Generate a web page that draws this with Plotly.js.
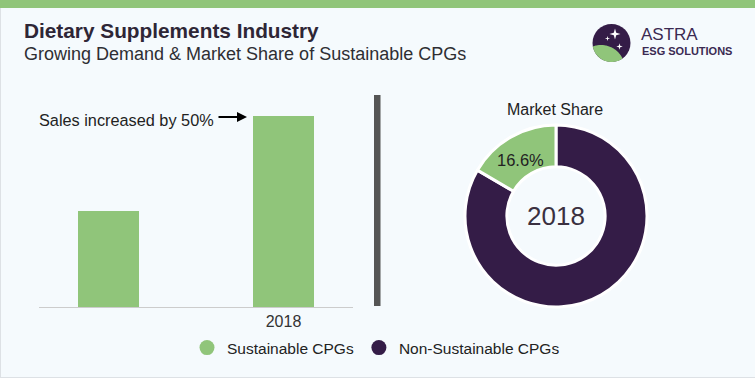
<!DOCTYPE html>
<html>
<head>
<meta charset="utf-8">
<script src="https://cdn.plot.ly/plotly-3.0.1.min.js"></script>
<style>
  html, body { margin: 0; padding: 0; background: #f5fafd; }
  #chart { width: 755px; height: 378px; }
</style>
</head>
<body>
<div id="chart"></div>
<script>
// ---- Data ----
const barCategories = ["2013", "2018"];
const barTickLabels = ["", "2018"];
const salesValues = [50, 99];

// slice order: drawn clockwise from 12 o'clock, so the green slice ends at the top
const shareLabels = ["Non-Sustainable CPGs", "Sustainable CPGs"];
const shareValues = [83.4, 16.6];

const legendLabels = ["Sustainable CPGs", "Non-Sustainable CPGs"];

const pieYear = "2018";
const titleText = "Dietary Supplements Industry";
const subtitleText = "Growing Demand & Market Share of Sustainable CPGs";
const barNote = "Sales increased by 50%";

// ---- Style ----
const W = 755, H = 378;
const GREEN = "#90c57a";
const PURPLE = "#341c47";
const BG = "#f5fafd";
const FONT = "Liberation Sans, Arial, sans-serif";
const px = x => x / W;
const py = y => 1 - y / H;

function pathFromPts(pts) {
  return "M " + pts.map(p => px(p[0]).toFixed(5) + "," + py(p[1]).toFixed(5)).join(" L ") + " Z";
}
function starPath(cx, cy, r) {
  const k = r * 0.22;
  const pts = [[cx, cy - r], [cx + k, cy - k], [cx + r, cy], [cx + k, cy + k],
               [cx, cy + r], [cx - k, cy + k], [cx - r, cy], [cx - k, cy - k]];
  return pathFromPts(pts);
}
function circlePts(cx, cy, r, a0, a1, n) {
  const pts = [];
  for (let i = 0; i <= n; i++) {
    const a = a0 + (a1 - a0) * i / n;
    pts.push([cx + r * Math.cos(a), cy + r * Math.sin(a)]);
  }
  return pts;
}
const LX = 611.5, LY = 43, LR = 19;
function crescentPath() {
  const ccx = 601, ccy = 69, cr = 24;
  const N = 200;
  const inside = (x, y, cx, cy, r) => (x - cx) ** 2 + (y - cy) ** 2 <= r * r;
  const a = circlePts(LX, LY, LR, 0, 2 * Math.PI, N).filter(p => inside(p[0], p[1], ccx, ccy, cr));
  const b = circlePts(ccx, ccy, cr, 0, 2 * Math.PI, N).filter(p => inside(p[0], p[1], LX, LY, LR));
  const all = a.concat(b);
  const mx = all.reduce((s, p) => s + p[0], 0) / all.length;
  const my = all.reduce((s, p) => s + p[1], 0) / all.length;
  all.sort((p, q) => Math.atan2(p[1] - my, p[0] - mx) - Math.atan2(q[1] - my, q[0] - mx));
  return pathFromPts(all);
}

const traces = [
  {
    type: "bar",
    x: barCategories,
    y: salesValues,
    marker: { color: GREEN },
    width: 0.35,
    showlegend: false,
    hoverinfo: "skip",
    xaxis: "x", yaxis: "y"
  },
  {
    type: "pie",
    labels: shareLabels,
    values: shareValues,
    textinfo: "none",
    hole: 0.54,
    sort: false,
    direction: "clockwise",
    rotation: 0,
    marker: { colors: [PURPLE, GREEN], line: { color: "#ffffff", width: 3 } },
    domain: { x: [px(465), px(647)], y: [py(307), py(125)] },
    showlegend: false,
    hoverinfo: "skip"
  },
  {
    type: "scatter", mode: "markers", x: [null], y: [null],
    name: legendLabels[0], marker: { color: GREEN, size: 15, symbol: "circle" },
    xaxis: "x2", yaxis: "y2", showlegend: true
  },
  {
    type: "scatter", mode: "markers", x: [null], y: [null],
    name: legendLabels[1], marker: { color: PURPLE, size: 15, symbol: "circle" },
    xaxis: "x2", yaxis: "y2", showlegend: true
  }
];

const layout = {
  width: W, height: H,
  margin: { l: 0, r: 0, t: 0, b: 0 },
  paper_bgcolor: BG,
  plot_bgcolor: BG,
  font: { family: FONT, color: "#222222" },
  bargap: 0,
  xaxis: {
    domain: [px(39), px(353)],
    type: "category",
    range: [-0.397, 1.397],
    tickvals: barCategories,
    ticktext: barTickLabels,
    showline: true, linecolor: "#cccccc", linewidth: 1,
    showgrid: false, zeroline: false, ticks: "",
    tickfont: { family: FONT, size: 16, color: "#333333" },
    fixedrange: true
  },
  yaxis: {
    domain: [py(307), py(116)],
    range: [0, 99],
    visible: false, showgrid: false, zeroline: false,
    fixedrange: true
  },
  xaxis2: { domain: [0.98, 1], visible: false, anchor: "y2" },
  yaxis2: { domain: [0, 0.02], visible: false, anchor: "x2" },
  legend: {
    orientation: "h",
    x: px(187), xanchor: "left",
    y: py(348), yanchor: "middle",
    font: { family: FONT, size: 15.5, color: "#222222" },
    bgcolor: "rgba(0,0,0,0)",
    itemclick: false, itemdoubleclick: false
  },
  shapes: [
    { type: "rect", xref: "paper", yref: "paper", x0: 0, x1: 1, y0: py(8), y1: 1,
      fillcolor: GREEN, line: { width: 0 }, layer: "below" },
    { type: "line", xref: "paper", yref: "paper", x0: 0, x1: 1, y0: py(377.5), y1: py(377.5),
      line: { color: "#dde1e5", width: 1 } },
    { type: "line", xref: "paper", yref: "paper", x0: px(0.5), x1: px(0.5), y0: py(8), y1: py(378),
      line: { color: "#dde1e5", width: 1 } },
    { type: "rect", xref: "paper", yref: "paper", x0: px(374), x1: px(380.5), y0: py(306), y1: py(95),
      fillcolor: "#555555", line: { width: 0 } },
    { type: "circle", xref: "paper", yref: "paper",
      x0: px(LX - LR), x1: px(LX + LR), y0: py(LY + LR), y1: py(LY - LR),
      fillcolor: PURPLE, line: { width: 0 } },
    { type: "path", xref: "paper", yref: "paper", path: crescentPath(),
      fillcolor: GREEN, line: { width: 0 } },
    { type: "path", xref: "paper", yref: "paper", path: starPath(615, 34, 5.5),
      fillcolor: "#ffffff", line: { width: 0 } },
    { type: "path", xref: "paper", yref: "paper", path: starPath(607.5, 38.5, 2.6),
      fillcolor: "#ffffff", line: { width: 0 } },
    { type: "path", xref: "paper", yref: "paper", path: starPath(619.5, 46.5, 3.2),
      fillcolor: "#ffffff", line: { width: 0 } }
  ],
  annotations: [
    { xref: "paper", yref: "paper", x: px(22), y: py(31), xanchor: "left", yanchor: "middle",
      text: "<b>" + titleText + "</b>", showarrow: false,
      font: { family: FONT, size: 20.8, color: "#2e2636" } },
    { xref: "paper", yref: "paper", x: px(22), y: py(54), xanchor: "left", yanchor: "middle",
      text: subtitleText, showarrow: false,
      font: { family: FONT, size: 18, color: "#2e2e33" } },
    { xref: "paper", yref: "paper", x: px(639), y: py(35), xanchor: "left", yanchor: "middle",
      text: "ASTRA", showarrow: false,
      font: { family: FONT, size: 17, color: "#3b2a52" } },
    { xref: "paper", yref: "paper", x: px(640), y: py(51), xanchor: "left", yanchor: "middle",
      text: "<b>ESG SOLUTIONS</b>", showarrow: false,
      font: { family: FONT, size: 11, color: "#3b2a52" } },
    { xref: "paper", yref: "paper", x: px(216), y: py(120), xanchor: "right", yanchor: "middle",
      text: barNote, showarrow: false,
      font: { family: FONT, size: 16.3, color: "#222222" } },
    { xref: "paper", yref: "paper", x: px(247), y: py(117), text: "", showarrow: true,
      ax: -30, ay: 0, arrowhead: 2, arrowsize: 1, arrowwidth: 2, arrowcolor: "#000000", standoff: 0 },
    { xref: "paper", yref: "paper", x: px(555), y: py(109), xanchor: "center", yanchor: "middle",
      text: "Market Share", showarrow: false,
      font: { family: FONT, size: 16, color: "#222222" } },
    { xref: "paper", yref: "paper", x: px(520), y: py(160), xanchor: "center", yanchor: "middle",
      text: shareValues[1].toFixed(1) + "%", showarrow: false,
      font: { family: FONT, size: 16.5, color: "#222222" } },
    { xref: "paper", yref: "paper", x: px(556), y: py(216), xanchor: "center", yanchor: "middle",
      text: pieYear, showarrow: false,
      font: { family: FONT, size: 26, color: "#3a3040" } }
  ]
};

Plotly.newPlot("chart", traces, layout, { displayModeBar: false, staticPlot: true });
</script>
</body>
</html>
